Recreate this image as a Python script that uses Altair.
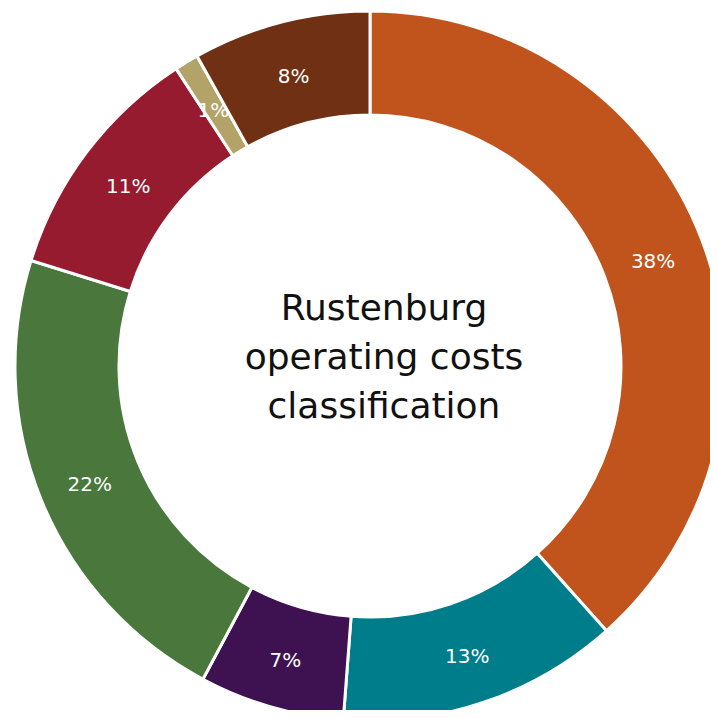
import altair as alt
import pandas as pd

categories = ["A", "B", "C", "D", "E", "F", "G"]
values = [38.4, 12.8, 6.6, 22.0, 11.0, 1.1, 8.1]
labels = ["38%", "13%", "7%", "22%", "11%", "1%", "8%"]
colors = ["#C0541C", "#007D8A", "#3E1151", "#4A773C", "#971B2F", "#B4A369", "#6F3014"]
title_lines = ["Rustenburg", "operating costs", "classification"]

df = pd.DataFrame({"cat": categories, "value": values, "label": labels,
                   "order": list(range(len(values)))})

CX, CY = 362.0, 358.0
R_OUT, R_IN = 355.0, 251.0
LH = 49

color_scale = alt.Scale(domain=categories, range=colors)

base = alt.Chart(df).encode(
    theta=alt.Theta("value:Q", stack=True),
    order=alt.Order("order:Q"),
    x=alt.value(CX),
    y=alt.value(CY),
)

arcs = base.mark_arc(outerRadius=R_OUT, innerRadius=R_IN, stroke="white",
                     strokeWidth=3).encode(
    color=alt.Color("cat:N", scale=color_scale, legend=None)
)

texts = base.mark_text(radius=(R_OUT + R_IN) / 2, font="DejaVu Sans", fontSize=20,
                       dy=4, color="white").encode(text="label:N")

title = alt.Chart(pd.DataFrame({"t": [title_lines]})).mark_text(
    font="DejaVu Sans", fontSize=36, color="#111111", lineHeight=LH,
    align="center", baseline="middle"
).encode(text="t", x=alt.value(CX + 14), y=alt.value(CY - LH - 8))

chart = alt.layer(arcs, texts, title).properties(
    width=702, height=702, padding=0,
    autosize=alt.AutoSizeParams(type="none")
).configure_view(stroke=None)

chart.save("out.html", embed_options={"renderer": "svg", "actions": False})
